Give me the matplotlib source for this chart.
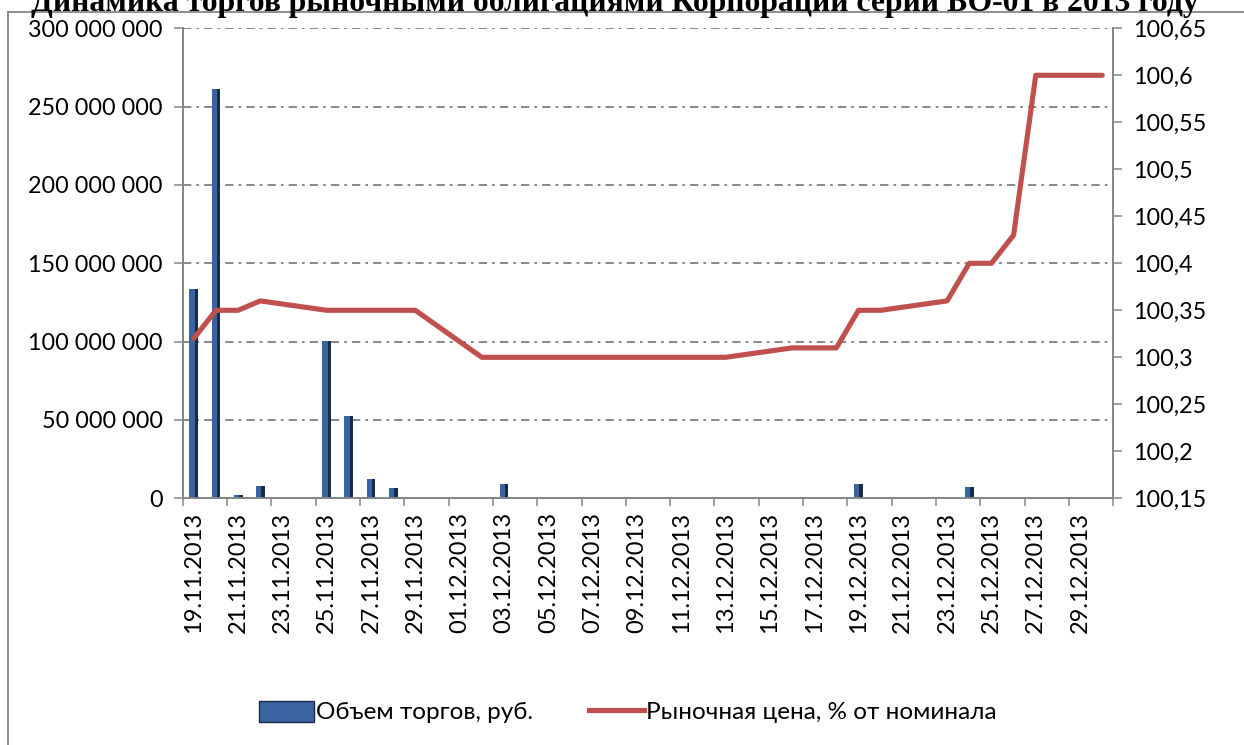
import numpy as np
import pandas as pd
import matplotlib
matplotlib.use("Agg")
import matplotlib.pyplot as plt
from matplotlib.lines import Line2D
from matplotlib.patches import Patch
from matplotlib.ticker import FuncFormatter

plt.rcParams['font.family'] = ['Lato', 'DejaVu Sans']

title = "Динамика торгов рыночными облигациями Корпорации серии БО-01 в 2013 году"
dates = pd.date_range('2013-11-19', '2013-12-30', freq='D')
categories = [d.strftime('%d.%m.%Y') for d in dates]

nan = np.nan
volume = [133.4e6, 261.1e6, 2.1e6, 8.0e6, 0, 0, 100.6e6, 52.7e6, 12.1e6, 6.6e6,
          0, 0, 0, 0.5e6, 9.3e6, 0, 0, 0, 0, 0,
          0, 0.5e6, 0, 0, 0, 0, 0, 0, 0, 0.5e6,
          9.1e6, 0, 0, 0, 0, 7.2e6, 0, 0.5e6, 0.5e6, 0,
          0, 0]
price = [100.32, 100.35, 100.35, 100.36, nan, nan, 100.35, 100.35, 100.35, 100.35,
         100.35, nan, nan, 100.30, 100.30, 100.30, 100.30, 100.30, nan, nan,
         100.30, 100.30, 100.30, 100.30, 100.30, nan, nan, 100.31, 100.31, 100.31,
         100.35, 100.35, nan, nan, 100.36, 100.40, 100.40, 100.43, 100.60, nan,
         nan, 100.60]
label_vol = "Объем торгов, руб."
label_price = "Рыночная цена, % от номинала"

W, H = 1244, 745
fig = plt.figure(figsize=(W / 100, H / 100), dpi=100)
ax = fig.add_axes([182.7 / W, 1 - 498.3 / H, (1113.3 - 182.7) / W, (498.3 - 28.3) / H])
ax2 = ax.twinx()

grey = '#868686'
x = np.arange(len(categories))
vol = np.array(volume, dtype=float)
ax.bar(x, vol, width=0.4, color='#3A64A0', zorder=2)
ax.bar(x + 0.12, vol, width=0.16, color='#1A2B44', zorder=3)

pr = np.array(price, dtype=float)
m = ~np.isnan(pr)
ax2.plot(x[m], pr[m], color='#C0504D', lw=3.7, solid_capstyle='round',
         solid_joinstyle='round', zorder=4)

ax.set_xlim(-0.5, len(categories) - 0.5)
ax.set_ylim(0, 300e6)
ax.set_yticks(np.arange(0, 300e6 + 1, 50e6))
ax.yaxis.set_major_formatter(FuncFormatter(lambda v, p: f"{int(v):,}".replace(',', ' ')))
ax2.set_ylim(100.15, 100.65)
ax2.set_yticks(np.arange(100.15, 100.651, 0.05))
ax2.yaxis.set_major_formatter(FuncFormatter(lambda v, p: (f"{v:.2f}".rstrip('0').rstrip('.')).replace('.', ',')))

ax.set_axisbelow(True)
ax.yaxis.grid(True, color='#7F7F7F', lw=1.3, dashes=(4.6, 2.8, 1.5, 2.8))

ax.set_xticks(x[::2])
ax.set_xticklabels(categories[::2], rotation=90)
ax.set_xticks(np.arange(-0.5, len(categories), 2), minor=True)
ax.tick_params(axis='x', which='major', length=0, pad=10, labelsize=17)
ax.tick_params(axis='x', which='minor', length=6, width=1.1, color=grey, direction='out')
ax.tick_params(axis='y', length=6.5, width=1.1, color=grey, labelsize=16.8, pad=8)
ax2.tick_params(axis='y', length=6.5, width=1.1, color=grey, labelsize=16.8, pad=8)

for a in (ax, ax2):
    a.spines['top'].set_visible(False)
    for s in ('left', 'right', 'bottom'):
        a.spines[s].set_color(grey)
        a.spines[s].set_linewidth(1.3)

# frame
fig.add_artist(Line2D([8 / W, 8 / W], [0, 1 - 12 / H], color=grey, lw=1.3, transform=fig.transFigure))
fig.add_artist(Line2D([8 / W, 1], [1 - 12 / H, 1 - 12 / H], color=grey, lw=1.3, transform=fig.transFigure))

fig.text(615 / W, 1 - 11 / H, title, ha='center', va='baseline',
         fontsize=22.8, fontweight='bold', family=['Liberation Serif'])

handles = [Patch(facecolor='#3A64A0', edgecolor='#1A2B44'),
           Line2D([0], [0], color='#C0504D', lw=3.7)]
fig.legend(handles, [label_vol, label_price], loc='center', bbox_to_anchor=(628 / W, 1 - 712 / H),
           ncol=2, frameon=False, fontsize=17.5, handlelength=2.25, handleheight=0.95,
           handletextpad=0.1, columnspacing=2.3)

fig.savefig('out.png', dpi=100)
